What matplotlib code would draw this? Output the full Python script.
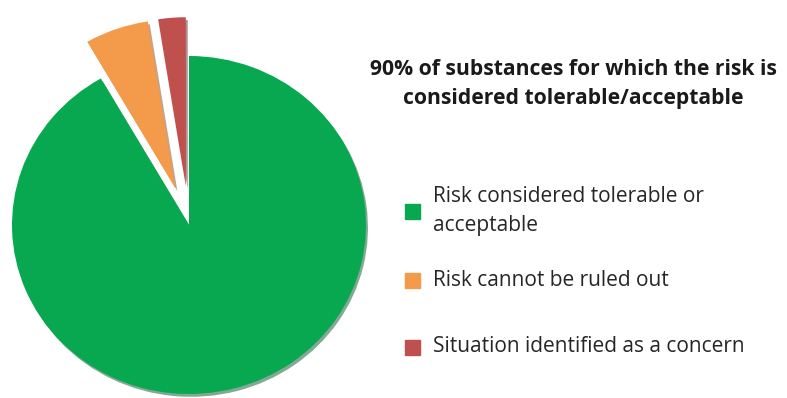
import matplotlib.pyplot as plt
from matplotlib.patches import Rectangle

# share of substances (percent)
labels = ["Risk considered tolerable or\nacceptable",
          "Risk cannot be ruled out",
          "Situation identified as a concern"]
shares = [91.7, 5.8, 2.5]
colors = ["#07a84f", "#f39a4b", "#c0504d"]
explode = [0.0, 0.23, 0.23]

title = "90% of substances for which the risk is\nconsidered tolerable/acceptable"

W, H = 787, 398
fig = plt.figure(figsize=(W / 100, H / 100), dpi=100)
ax = fig.add_axes([0, 0, 1, 1])

wedges, _ = ax.pie(shares, colors=colors, explode=explode, startangle=90,
                   counterclock=False, radius=1.0,
                   shadow={'ox': 0.008, 'oy': -0.012, 'shade': 0.5},
                   wedgeprops=dict(linewidth=0))

# pie centre and radii in pixels (slightly squashed, like the original)
cx, cy = 189, H - 225
rx, ry = 177, 169
ax.set_aspect('auto')
ax.set_xlim(-cx / rx, (W - cx) / rx)
ax.set_ylim(-cy / ry, (H - cy) / ry)
ax.axis('off')

fig.text(573 / W, 1 - 84 / H, title, ha='center', va='center',
         fontsize=15.2, fontweight='bold', family='Open Sans',
         color='#1a1a1a', linespacing=1.5)

# legend drawn by hand
leg_y = [211, 280, 347]
for lab, col, y in zip(labels, colors, leg_y):
    fig.patches.append(Rectangle((405 / W, 1 - (y + 7.5) / H), 15 / W, 15 / H,
                                 transform=fig.transFigure, color=col))
    fig.text(433 / W, 1 - y / H, lab, ha='left', va='center',
             fontsize=15, family='Open Sans', color='#262626',
             linespacing=1.45)

fig.savefig("out.png", dpi=100)
